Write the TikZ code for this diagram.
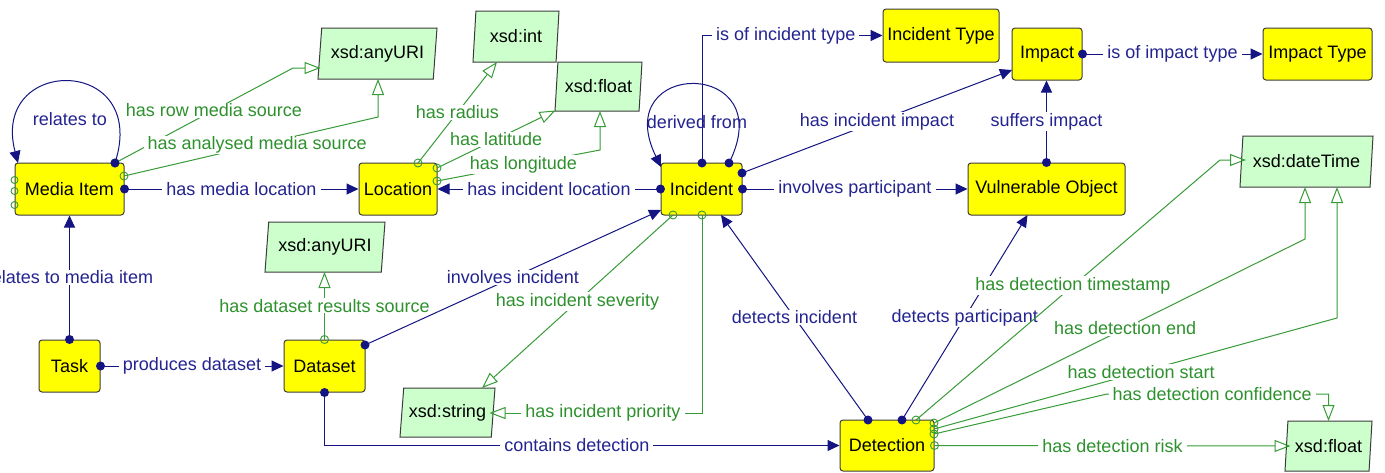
\documentclass[tikz,border=0pt]{standalone}
\usepackage{fontspec}
\setmainfont{Liberation Sans}
\usetikzlibrary{arrows.meta,shapes.geometric,calc}

\definecolor{objline}{RGB}{20,20,130}
\definecolor{objtext}{RGB}{35,35,145}
\definecolor{dataline}{RGB}{55,155,55}
\definecolor{datatext}{RGB}{45,145,45}
\definecolor{classfill}{RGB}{255,255,0}
\definecolor{dtfill}{RGB}{204,255,204}
\definecolor{boxline}{RGB}{60,60,60}

\tikzset{
  every node/.style={font=\fontsize{18}{20}\selectfont},
  cls/.style={draw=boxline, line width=1pt, fill=classfill, rounded corners=3pt,
    minimum height=52, inner sep=0pt, text=black},
  dtype/.style={trapezium, trapezium left angle=77.5, trapezium right angle=102.5,
    trapezium stretches body, draw=boxline, line width=1pt, fill=dtfill,
    minimum height=51, inner xsep=1pt, inner ysep=0pt, text=black},
  objprop/.style={draw=objline, line width=1pt, -{Triangle[length=12pt,width=11pt]}},
  dataprop/.style={draw=dataline, line width=1pt, -{Triangle[open,length=16pt,width=12pt]}},
  objlbl/.style={fill=white, text=objtext, inner xsep=4pt, inner ysep=1pt},
  datalbl/.style={fill=white, text=datatext, inner xsep=4pt, inner ysep=1pt},
  looplbl/.style={text=objtext, inner sep=1pt},
}

\begin{document}
\begin{tikzpicture}[x=1pt,y=-1pt]
\useasboundingbox (0,0) rectangle (1385,472);
\clip (0,0) rectangle (1385,472);
\fill[white] (0,0) rectangle (1385,472);

% ---------- classes ----------
\node[cls, minimum width=109] (mi)      at (69.5,189)   {Media Item};
\node[cls, minimum width=78]  (loc)     at (398,189)    {Location};
\node[cls, minimum width=81]  (inc)     at (701.5,189)  {Incident};
\node[cls, minimum width=116, minimum height=53] (itype) at (941,35.5) {Incident Type};
\node[cls, minimum width=70]  (imp)     at (1047,54)    {Impact};
\node[cls, minimum width=109] (imptype) at (1317.5,54)  {Impact Type};
\node[cls, minimum width=157] (vo)      at (1046.5,189) {Vulnerable Object};
\node[cls, minimum width=61]  (task)    at (69.5,366)   {Task};
\node[cls, minimum width=81]  (ds)      at (324.5,366)  {Dataset};
\node[cls, minimum width=94, minimum height=51] (det) at (887,445.5) {Detection};

% ---------- datatypes ----------
\node[dtype, minimum width=119] (uri1)   at (377.5,53.5)  {xsd:anyURI};
\node[dtype, minimum width=86]  (int)    at (516,36.5)    {xsd:int};
\node[dtype, minimum width=87, minimum height=49] (float1) at (598.5,86.5) {xsd:float};
\node[dtype, minimum width=120, minimum height=50] (uri2) at (325,247) {xsd:anyURI};
\node[dtype, minimum width=133] (dt)     at (1306.5,161.5) {xsd:dateTime};
\node[dtype, minimum width=95, minimum height=49] (str) at (447.5,412.5) {xsd:string};
\node[dtype, minimum width=87, minimum height=50] (float2) at (1328.5,446) {xsd:float};

% ---------- object properties ----------
\draw[objprop] ($(mi)+(45.5,-26)$) coordinate (sRel)
  .. controls ($(mi)+(80.5,-134)$) and ($(mi)+(-79.5,-134)$) .. ($(mi)+(-51.5,-26)$);
\draw[objprop] (mi.east) -- coordinate[midway] (lHml) (loc.west);
\draw[objprop] (task.north) -- coordinate[midway] (lRtm) (mi.south);
\draw[objprop] (task.east) -- coordinate[midway] (lPd) (ds.west);
\draw[objprop] ($(ds)+(40.5,-21)$) coordinate (sIi) -- coordinate[midway] (lIi) ($(inc)+(-40.5,21)$);
\draw[objprop] (ds.south) |- coordinate[pos=0.745] (lCd) (det.west);
\draw[objprop] (inc.west) -- coordinate[midway] (lHil) (loc.east);
\draw[objprop] ($(inc)+(27.5,-26)$) coordinate (sDer)
  .. controls ($(inc)+(80.5,-131)$) and ($(inc)+(-93.5,-131)$) .. ($(inc)+(-40.5,-22)$);
\draw[objprop] ($(inc)+(0.5,-26)$) coordinate (sIt) |- coordinate[pos=0.732] (lIt) (itype.west);
\draw[objprop] ($(inc)+(40.5,-16)$) coordinate (sHii) -- coordinate[midway] (lHii) ($(imp)+(-35,16)$);
\draw[objprop] (inc.east) -- coordinate[midway] (lIp) (vo.west);
\draw[objprop] (vo.north) -- coordinate[midway] (lSi) (vo.north |- imp.south);
\draw[objprop] (imp.east) -- coordinate[midway] (lIit) (imptype.west);
\draw[objprop] ($(det)+(-19,-25.5)$) coordinate (sDi) -- coordinate[midway] (lDi) ($(inc)+(19.5,26)$);
\draw[objprop] ($(det)+(15,-25.5)$) coordinate (sDp) -- coordinate[midway] (lDp) ($(vo)+(-19,26)$);

\node[looplbl] (tRel) at ($(mi)+(0.5,-70)$) {relates to};
\node[looplbl] (tDer) at ($(inc)+(-4.5,-67)$) {derived from};
\node[objlbl] (tHml) at (lHml) {has media location};
\node[objlbl] (tRtm) at (lRtm) {relates to media item};
\node[objlbl] (tPd)  at (lPd)  {produces dataset};
\node[objlbl] (tIi)  at (lIi)  {involves incident};
\node[objlbl] (tCd)  at (lCd)  {contains detection};
\node[objlbl] (tHil) at (lHil) {has incident location};
\node[objlbl] (tIt)  at (lIt)  {is of incident type};
\node[objlbl] (tHii) at (lHii) {has incident impact};
\node[objlbl] (tIp)  at (lIp)  {involves participant};
\node[objlbl] (tSi)  at (lSi)  {suffers impact};
\node[objlbl] (tIit) at (lIit) {is of impact type};
\node[objlbl] (tDi)  at (lDi)  {detects incident};
\node[objlbl] (tDp)  at (lDp)  {detects participant};

% ---------- datatype properties ----------
\draw[dataprop] (sRel) -- coordinate[pos=0.556] (lRms) ($(uri1)+(-84.5,14.5)$) -- ($(uri1)+(-57,14.5)$);
\draw[dataprop] ($(mi)+(54.5,-13)$) coordinate (sAms) -- coordinate[pos=0.524] (lAms)
  ($(uri1)+(0.5,63.5)$) -- ($(uri1)+(0.5,25.5)$);
\draw[dataprop] ($(loc)+(20,-26)$) coordinate (sRad) -- coordinate[midway] (lRad) ($(int)+(-19,25.5)$);
\draw[dataprop] ($(loc)+(39,-21)$) coordinate (sLat) -- coordinate[midway] (lLat) ($(float1)+(-43,24)$);
\draw[dataprop] ($(loc)+(39,-8)$) coordinate (sLon) -- coordinate[pos=0.53] (lLon)
  ($(float1)+(1.5,63.5)$) -- ($(float1)+(1.5,24.5)$);
\draw[dataprop] (ds.north) -- coordinate[midway] (lDrs) ($(uri2)+(-0.5,25)$);
\draw[dataprop] ($(inc)+(-28.5,26)$) coordinate (sSev) -- coordinate[midway] (lSev) ($(str)+(34.5,-24.5)$);
\draw[dataprop] ($(inc)+(0.5,26)$) coordinate (sPri) |- coordinate[pos=0.733] (lPri) ($(str)+(42,0.5)$);
\draw[dataprop] ($(det)+(29,-25.5)$) coordinate (sTs) -- coordinate[pos=0.516] (lTs)
  ($(dt)+(-86.5,-1.5)$) -- ($(dt)+(-60.5,-1.5)$);
\draw[dataprop] ($(det)+(47,-22.5)$) coordinate (sEnd) -- coordinate[pos=0.515] (lEnd)
  ($(dt)+(-1.5,77.5)$) -- ($(dt)+(-1.5,25.5)$);
\draw[dataprop] ($(det)+(47,-16.5)$) coordinate (sSta) -- coordinate[pos=0.514] (lSta)
  ($(dt)+(30.5,156.5)$) -- ($(dt)+(30.5,25.5)$);
\draw[dataprop] ($(det)+(47,-11.5)$) coordinate (sConf) -- ($(float2)+(-221.5,-52)$)
  -- coordinate[pos=0.475] (lConf) ($(float2)+(0,-52)$) -- ($(float2)+(0,-25)$);
\draw[dataprop] (det.east) -- coordinate[midway] (lRisk) ($(float2)+(-38,0)$);

\node[datalbl] (tRms)  at (lRms)  {has row media source};
\node[datalbl] (tAms)  at (lAms)  {has analysed media source};
\node[datalbl] (tRad)  at (lRad)  {has radius};
\node[datalbl] (tLat)  at (lLat)  {has latitude};
\node[datalbl] (tLon)  at (lLon)  {has longitude};
\node[datalbl] (tDrs)  at (lDrs)  {has dataset results source};
\node[datalbl] (tSev)  at (lSev)  {has incident severity};
\node[datalbl] (tPri)  at (lPri)  {has incident priority};
\node[datalbl] (tTs)   at (lTs)   {has detection timestamp};
\node[datalbl] (tEnd)  at (lEnd)  {has detection end};
\node[datalbl] (tSta)  at (lSta)  {has detection start};
\node[datalbl] (tConf) at (lConf) {has detection confidence};
\node[datalbl] (tRisk) at (lRisk) {has detection risk};

% ---------- end markers ----------
\foreach \p in {sAms,sRad,sLat,sLon,ds.north,sSev,sPri,sTs,sEnd,sSta,sConf,det.east,sRel}
  \draw[dataline, line width=0.9pt] (\p) circle[radius=4pt];
\foreach \dy in {-9,2,16}
  \draw[dataline, line width=0.9pt] ($(mi.west)+(0,\dy)$) circle[radius=3.5pt];
\foreach \p in {sRel,mi.east,task.north,task.east,sIi,ds.south,inc.west,sDer,sIt,sHii,inc.east,vo.north,imp.east,sDi,sDp}
  \fill[objline] (\p) circle[radius=4.5pt];
\end{tikzpicture}
\end{document}
